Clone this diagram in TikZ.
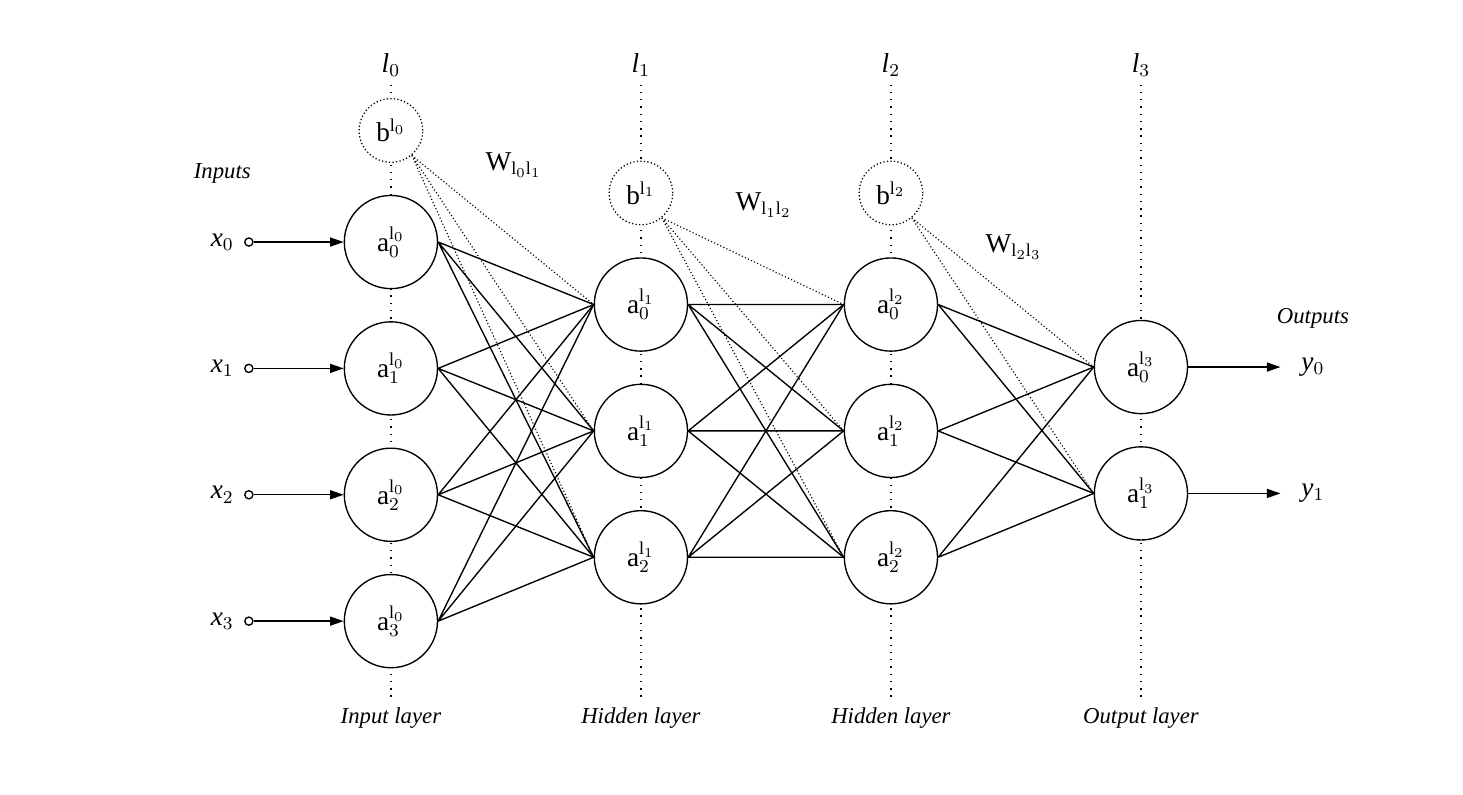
\documentclass[tikz,border=0pt]{standalone}
\usepackage{fontspec}
\setmainfont{Liberation Serif}
\usetikzlibrary{arrows.meta,positioning,backgrounds}

\newcommand{\actv}[2]{$\mathrm{a}^{\mathrm{l}_{#1}}_{#2}$}
\newcommand{\biasv}[1]{$\mathrm{b}^{\mathrm{l}_{#1}}$}
\newcommand{\wlab}[2]{$\mathrm{W}_{\mathrm{l}_{#1}\mathrm{l}_{#2}}$}
\newcommand{\ivar}[2]{\textit{#1}$_{#2}$}

\tikzset{
  neuron/.style={circle, draw, semithick, fill=white, minimum size=41pt, inner sep=0pt, font=\large},
  bias/.style={circle, draw, densely dotted, line width=0.55pt, fill=white, minimum size=28pt, inner sep=0pt, font=\large},
  port/.style={circle, draw, semithick, fill=white, minimum size=3.6pt, inner sep=0pt},
  conn/.style={semithick},
  biasconn/.style={densely dotted, line width=0.5pt},
  guide/.style={dash pattern=on 0.6pt off 2.6pt, line width=0.6pt},
  feed/.style={-{Triangle[length=6pt, width=4pt]}, semithick},
  lname/.style={font=\itshape},
  var/.style={font=\large}
}

\begin{document}
\begin{tikzpicture}[node distance=14pt]
\useasboundingbox (-172pt,106.5pt) rectangle (471.7pt,-242.9pt);

% input layer
\node[neuron] (i0) at (0,0) {\actv{0}{0}};
\node[neuron, below=of i0] (i1) {\actv{0}{1}};
\node[neuron, below=of i1] (i2) {\actv{0}{2}};
\node[neuron, below=of i2] (i3) {\actv{0}{3}};
\node[bias, above=of i0] (b0) {\biasv{0}};

% hidden layers
\node[neuron] (h0) at (110pt,-27.5pt) {\actv{1}{0}};
\node[neuron, below=of h0] (h1) {\actv{1}{1}};
\node[neuron, below=of h1] (h2) {\actv{1}{2}};
\node[bias, above=of h0] (b1) {\biasv{1}};

\node[neuron] (g0) at (220pt,-27.5pt) {\actv{2}{0}};
\node[neuron, below=of g0] (g1) {\actv{2}{1}};
\node[neuron, below=of g1] (g2) {\actv{2}{2}};
\node[bias, above=of g0] (b2) {\biasv{2}};

% output layer
\node[neuron] (o0) at (330pt,-55pt) {\actv{3}{0}};
\node[neuron, below=of o0] (o1) {\actv{3}{1}};

% layer names
\node[var] (l0) at (0,77.9pt) {\ivar{l}{0}};
\node[var] (l1) at (110pt,77.9pt) {\ivar{l}{1}};
\node[var] (l2) at (220pt,77.9pt) {\ivar{l}{2}};
\node[var] (l3) at (330pt,77.9pt) {\ivar{l}{3}};
\node[lname] (n0) at (0,-209.4pt) {Input layer};
\node[lname] (n1) at (110pt,-209.4pt) {Hidden layer};
\node[lname] (n2) at (220pt,-209.4pt) {Hidden layer};
\node[lname] (n3) at (330pt,-209.4pt) {Output layer};

% weights
\node[var] (w01) at (54pt,33.9pt) {\wlab{0}{1}};
\node[var] (w12) at (164pt,16.3pt) {\wlab{1}{2}};
\node[var] (w23) at (274pt,-2.2pt) {\wlab{2}{3}};

% inputs
\node[port, left=39.6pt of i0] (p0) {};
\node[port, left=39.6pt of i1] (p1) {};
\node[port, left=39.6pt of i2] (p2) {};
\node[port, left=39.6pt of i3] (p3) {};
\node[var, left=1pt of p0] (x0) {\ivar{x}{0}};
\node[var, left=1pt of p1] (x1) {\ivar{x}{1}};
\node[var, left=1pt of p2] (x2) {\ivar{x}{2}};
\node[var, left=1pt of p3] (x3) {\ivar{x}{3}};
\node[lname, above=15pt of x0] (inp) {Inputs};

% outputs
\node[var, right=46.3pt of o0] (y0) {\ivar{y}{0}};
\node[var, right=46.3pt of o1] (y1) {\ivar{y}{1}};
\node[lname, above=6pt of y0] (outp) {Outputs};

\begin{pgfonlayer}{background}
\draw[guide] (l0) -- (n0);
\draw[guide] (l1) -- (n1);
\draw[guide] (l2) -- (n2);
\draw[guide] (l3) -- (n3);
\end{pgfonlayer}

\draw[feed] (p0) -- (i0);
\draw[feed] (p1) -- (i1);
\draw[feed] (p2) -- (i2);
\draw[feed] (p3) -- (i3);
\draw[feed, shorten >=5.7pt] (o0) -- (y0);
\draw[feed, shorten >=5.7pt] (o1) -- (y1);

\draw[conn] (i0.east) -- (h0.west) (i0.east) -- (h1.west) (i0.east) -- (h2.west);
\draw[conn] (i1.east) -- (h0.west) (i1.east) -- (h1.west) (i1.east) -- (h2.west);
\draw[conn] (i2.east) -- (h0.west) (i2.east) -- (h1.west) (i2.east) -- (h2.west);
\draw[conn] (i3.east) -- (h0.west) (i3.east) -- (h1.west) (i3.east) -- (h2.west);
\draw[conn] (h0.east) -- (g0.west) (h0.east) -- (g1.west) (h0.east) -- (g2.west);
\draw[conn] (h1.east) -- (g0.west) (h1.east) -- (g1.west) (h1.east) -- (g2.west);
\draw[conn] (h2.east) -- (g0.west) (h2.east) -- (g1.west) (h2.east) -- (g2.west);
\draw[conn] (g0.east) -- (o0.west) (g0.east) -- (o1.west);
\draw[conn] (g1.east) -- (o0.west) (g1.east) -- (o1.west);
\draw[conn] (g2.east) -- (o0.west) (g2.east) -- (o1.west);

\draw[biasconn] (b0.-50) -- (h0.west) (b0.-50) -- (h1.west) (b0.-50) -- (h2.west);
\draw[biasconn] (b1.-50) -- (g0.west) (b1.-50) -- (g1.west) (b1.-50) -- (g2.west);
\draw[biasconn] (b2.-50) -- (o0.west) (b2.-50) -- (o1.west);
\end{tikzpicture}
\end{document}
